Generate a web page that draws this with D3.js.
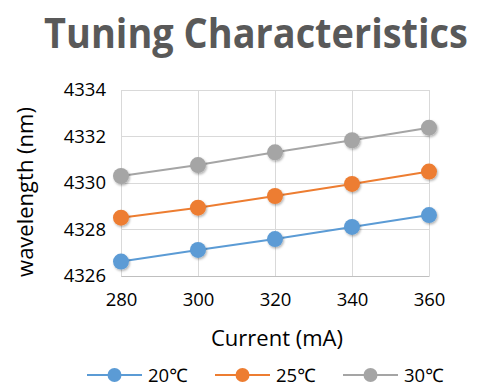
<!DOCTYPE html>
<html><head><meta charset="utf-8">
<script src="https://cdn.jsdelivr.net/npm/d3@7"></script>
<style>body{margin:0;background:#fff}svg{display:block}text{font-family:"Open Sans","Noto Sans",sans-serif}</style>
</head><body>
<script>
const currents = [280, 300, 320, 340, 360];
const series20 = [4326.62, 4327.12, 4327.59, 4328.11, 4328.62];
const series25 = [4328.51, 4328.94, 4329.44, 4329.96, 4330.49];
const series30 = [4330.30, 4330.77, 4331.32, 4331.84, 4332.38];
const seriesNames = ["20℃", "25℃", "30℃"];
const seriesColors = ["#5b9bd5", "#ed7d31", "#a5a5a5"];
const yTicks = [4326, 4328, 4330, 4332, 4334];
const xTicks = [280, 300, 320, 340, 360];

const W = 483, H = 392;
const svg = d3.select("body").append("svg").attr("width", W).attr("height", H);
const x = d3.scaleLinear().domain([280, 360]).range([121, 429]);
const y = d3.scaleLinear().domain([4326, 4334]).range([276, 90]);

// title (horizontally condensed to match the narrow original face)
const title = svg.append("text").attr("text-anchor", "middle")
  .attr("font-size", 41).attr("font-weight", "bold").attr("fill", "#595959")
  .text("Tuning Characteristics");
const tl = title.node().getComputedTextLength();
const sx = Math.min(1, 424 / tl);
title.attr("transform", `translate(256,48) scale(${sx},1)`);

// grid
const g = svg.append("g");
g.selectAll("line.h").data(yTicks).join("line")
  .attr("x1", x(280)).attr("x2", x(360)).attr("y1", d => y(d)).attr("y2", d => y(d))
  .attr("stroke", "#d9d9d9").attr("stroke-width", 1).attr("shape-rendering", "crispEdges");
g.selectAll("line.v").data(xTicks).join("line")
  .attr("y1", y(4326)).attr("y2", y(4334)).attr("x1", d => x(d)).attr("x2", d => x(d))
  .attr("stroke", "#d9d9d9").attr("stroke-width", 1).attr("shape-rendering", "crispEdges");

// axes
const yAxis = d3.axisLeft(y).tickValues(yTicks).tickSize(0).tickPadding(15).tickFormat(d3.format("d"));
const ya = svg.append("g").attr("transform", `translate(${x(280)},0)`).call(yAxis);
ya.select(".domain").remove();
ya.selectAll("text").attr("font-size", 18.5).attr("fill", "#000").attr("font-family", "'Open Sans',sans-serif");

const xAxis = d3.axisBottom(x).tickValues(xTicks).tickSize(0).tickPadding(17).tickFormat(d3.format("d"));
const xa = svg.append("g").attr("transform", `translate(0,${y(4326)})`).call(xAxis);
xa.select(".domain").attr("stroke", "#bfbfbf");
xa.selectAll("text").attr("font-size", 18.5).attr("fill", "#000").attr("font-family", "'Open Sans',sans-serif");

svg.append("text").attr("x", 277).attr("y", 346).attr("text-anchor", "middle")
  .attr("font-size", 22).attr("fill", "#000").text("Current (mA)");
svg.append("text").attr("transform", "translate(33,192) rotate(-90)").attr("text-anchor", "middle")
  .attr("font-size", 22).attr("fill", "#000").text("wavelength (nm)");

// shadow filter
const defs = svg.append("defs");
const f = defs.append("filter").attr("id", "sh").attr("x", "-50%").attr("y", "-50%").attr("width", "200%").attr("height", "200%");
f.append("feDropShadow").attr("dx", 1).attr("dy", 1.5).attr("stdDeviation", 1.2).attr("flood-color", "#000").attr("flood-opacity", 0.3);

const allSeries = [series20, series25, series30];
const line = d3.line().x((d, i) => x(currents[i])).y(d => y(d));
allSeries.forEach((s, k) => {
  svg.append("path").datum(s).attr("d", line).attr("fill", "none")
    .attr("stroke", seriesColors[k]).attr("stroke-width", 2);
  svg.append("g").selectAll("circle").data(s).join("circle")
    .attr("cx", (d, i) => x(currents[i])).attr("cy", d => y(d)).attr("r", 8)
    .attr("fill", seriesColors[k]).attr("filter", "url(#sh)");
});

// legend
const legX = [87, 215, 343];
const lg = svg.append("g");
seriesNames.forEach((n, k) => {
  const lx = legX[k], ly = 375;
  lg.append("line").attr("x1", lx).attr("x2", lx + 55).attr("y1", ly).attr("y2", ly)
    .attr("stroke", seriesColors[k]).attr("stroke-width", 2);
  lg.append("circle").attr("cx", lx + 27.5).attr("cy", ly).attr("r", 7).attr("fill", seriesColors[k]);
  lg.append("text").attr("x", lx + 61).attr("y", ly + 7).attr("font-size", 18.5).attr("fill", "#000").text(n);
});
</script>
</body></html>
